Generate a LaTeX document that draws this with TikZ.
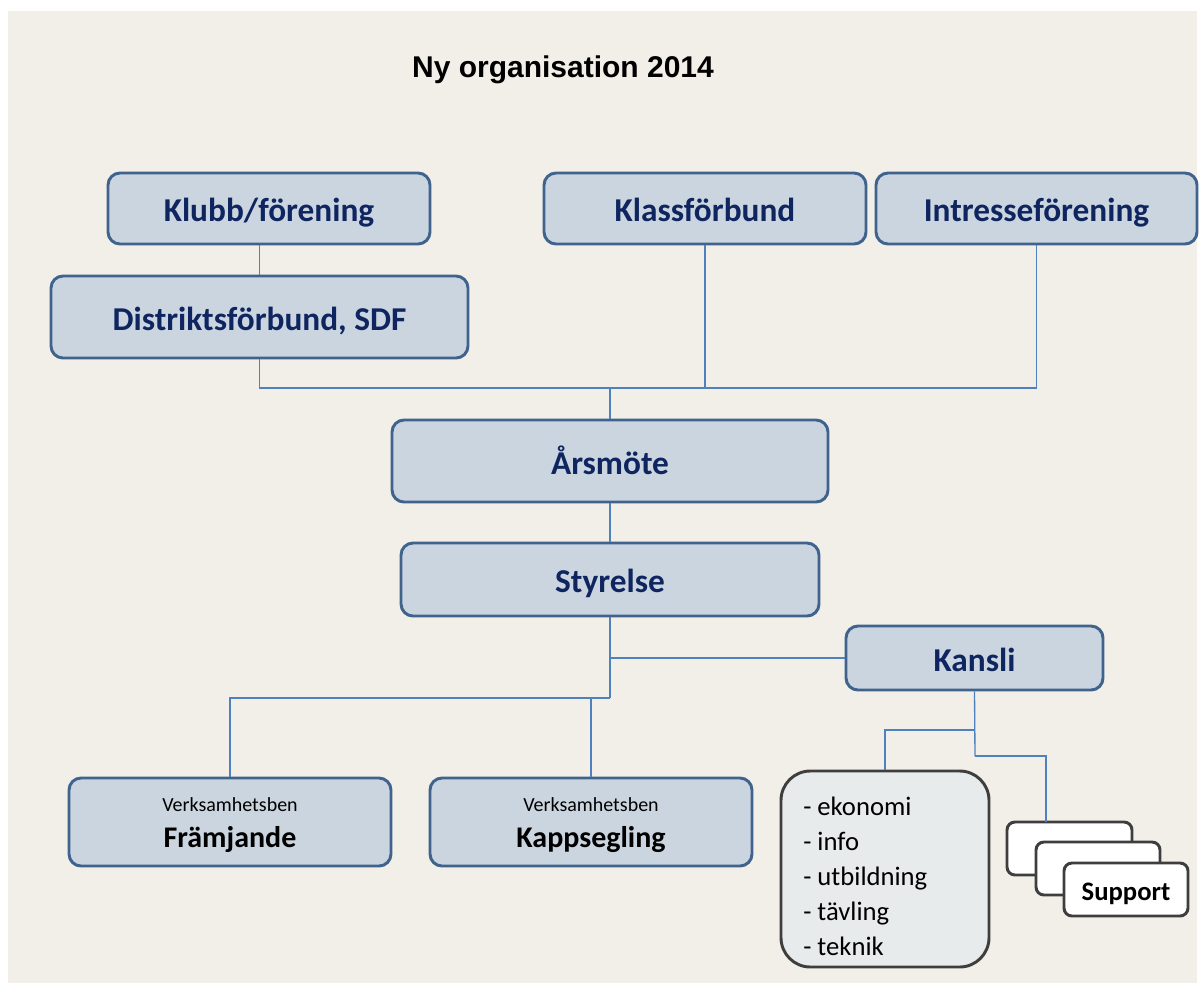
\documentclass[tikz,border=0pt]{standalone}
\usepackage{fontspec}
\setmainfont{Carlito}
\newfontfamily\titlefont{Liberation Sans}
\definecolor{bgbeige}{RGB}{242,239,233}
\definecolor{boxfill}{RGB}{202,213,223}
\definecolor{boxborder}{RGB}{64,99,142}
\definecolor{navytext}{RGB}{15,37,96}
\definecolor{linkblue}{RGB}{79,129,189}
\definecolor{grayborder}{RGB}{62,62,62}
\definecolor{listfill}{RGB}{232,235,236}
\begin{document}
\begin{tikzpicture}[x=0.75pt,y=-0.75pt,
  sz/.style 2 args={minimum width=#1*0.75pt, minimum height=#2*0.75pt},
  orgbox/.style={draw=boxborder, fill=boxfill, line width=2.2pt, rounded corners=9pt,
    inner sep=0pt, font=\fontsize{25}{30}\selectfont\bfseries, text=navytext,
    text height=22.5pt, text depth=3pt},
  subtext/.style={inner sep=0pt, font=\fontsize{15}{18}\selectfont, text=black},
  legtext/.style={inner sep=0pt, font=\fontsize{22.5}{27}\selectfont\bfseries, text=black},
  listbox/.style={draw=grayborder, fill=listfill, line width=2.2pt, rounded corners=22pt, inner sep=0pt},
  listtext/.style={inner sep=0pt, align=left, font=\fontsize{20}{26.25}\selectfont, text=black},
  supbox/.style={draw=grayborder, fill=white, line width=2.2pt, rounded corners=6pt, inner sep=0pt,
    font=\fontsize{20}{24}\selectfont\bfseries, text=black, text height=18pt, text depth=2.25pt},
  conn/.style={draw=linkblue, line width=1pt}
]
\useasboundingbox (0,0) rectangle (1199,983);
\fill[white] (0,0) rectangle (1199,983);
\fill[bgbeige] (8,11) rectangle (1197,983);

\node[anchor=base, inner sep=0pt, font={\titlefont\fontsize{22.5}{27}\selectfont\bfseries}] (title) at (563,77) {Ny organisation 2014};

\coordinate (bus) at (610,388);
\coordinate (bus2) at (610,698);
\coordinate (kbus) at (975,730);
\coordinate (kbus2) at (975,756);
\coordinate (s1) at (1046,822);

% connectors (drawn first, below boxes)
\node[orgbox, sz={322}{71}] (klubb) at (269,208.5) {Klubb/förening};
\node[orgbox, sz={417}{82}] (distrikt) at (259.5,317) {Distriktsförbund, SDF};
\node[orgbox, sz={322}{71}] (klass) at (705,208.5) {Klassförbund};
\node[orgbox, sz={321}{71}] (intresse) at (1036.5,208.5) {Intresseförening};
\node[orgbox, sz={436}{82}] (arsmote) at (610,461) {Årsmöte};
\node[orgbox, sz={418}{73}] (styrelse) at (610,579.5) {Styrelse};
\node[orgbox, sz={257}{64}] (kansli) at (974.5,658) {Kansli};
\node[orgbox, sz={322}{88}] (framjande) at (230,822) {};
\node[orgbox, sz={322}{88}] (kappsegling) at (591,822) {};
\node[subtext, anchor=base] (framjandesub) at (230,811) {Verksamhetsben};
\node[legtext, anchor=base] (framjandetitle) at (230,847) {Främjande};
\node[subtext, anchor=base] (kappsub) at (591,811) {Verksamhetsben};
\node[legtext, anchor=base] (kapptitle) at (591,847) {Kappsegling};

\node[listbox, sz={208}{196}] (lista) at (885,869) {};
\node[listtext, anchor=north west] (listatext) at (803,797) {- ekonomi\\- info\\- utbildning\\- tävling\\- teknik};

\node[supbox, sz={125}{53}] (sup1) at (1069.5,848.5) {};
\node[supbox, sz={124}{53}] (sup2) at (1098,868.5) {};
\node[supbox, sz={124}{53}] (sup3) at (1126,889.5) {Support};

\draw[conn] (distrikt.north |- klubb.south) -- (distrikt.north);
\draw[conn] (distrikt.south) |- (intresse.south |- bus) -- (intresse.south);
\draw[conn] (klass.south) -- (klass.south |- bus);
\draw[conn] (arsmote.north) -- (bus);
\draw[conn] (arsmote.south) -- (styrelse.north);
\draw[conn] (styrelse.south) -- (bus2);
\draw[conn] (styrelse.south |- kansli.west) -- (kansli.west);
\draw[conn] (bus2) -| (framjande.north);
\draw[conn] (kappsegling.north |- bus2) -- (kappsegling.north);
\draw[conn] (kansli.south) -- (kbus2);
\draw[conn] (kbus) -| (lista.north);
\draw[conn] (kbus2) -| (s1);
\end{tikzpicture}
\end{document}
